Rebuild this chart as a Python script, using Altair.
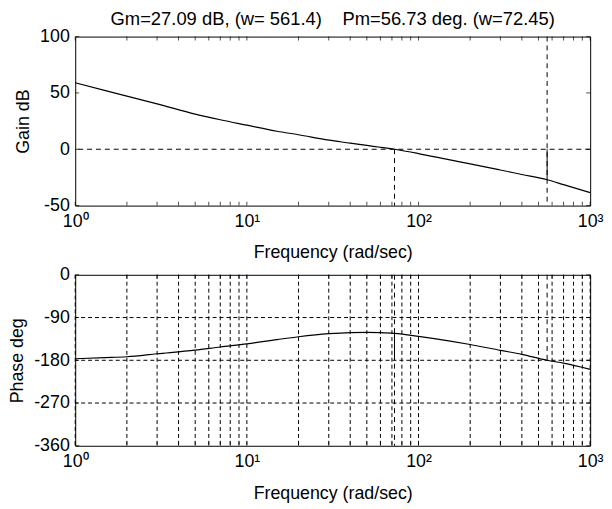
import altair as alt
import pandas as pd

# ---- data ----
freq = [1, 1.5, 2, 3, 5, 7, 10, 15, 20, 30, 40, 50, 60, 72.45, 100, 150, 200, 300, 400, 561.4, 700, 1000]
gain_db = [59.0, 52.0, 47.1, 40.3, 31.2, 26.2, 21.4, 16.0, 12.9, 8.1, 5.5, 3.4, 1.8, 0.0,
           -3.8, -9.2, -12.9, -18.4, -22.4, -27.09, -31.4, -38.5]
phase_deg = [-176.7, -174.5, -172.5, -166.3, -158.6, -152.0, -145.5, -136.5, -130.5, -124.0,
             -121.6, -121.2, -121.8, -123.27, -129.5, -139.0, -146.7, -159.0, -167.5, -180.0,
             -186.0, -199.0]

w_gm = 561.4      # gain-margin frequency
w_pm = 72.45      # phase-margin frequency
gm_db = 27.09
pm_deg = 56.73

tick_freqs = [1, 2, 3, 4, 5, 6, 7, 8, 9, 10, 20, 30, 40, 50, 60, 70, 80, 90,
              100, 200, 300, 400, 500, 600, 700, 800, 900, 1000]
major_freqs = [1, 10, 100, 1000]
major_labels = ["10\u2070", "10\u00b9", "10\u00b2", "10\u00b3"]
gain_ticks = [-50, 0, 50, 100]
phase_ticks = [-360, -270, -180, -90, 0]
phase_grid = [-270, -180, -90]

title_text = "Gm=27.09 dB, (w= 561.4)\u00a0\u00a0\u00a0\u00a0Pm=56.73 deg. (w=72.45)"
x_title = "Frequency (rad/sec)"

FONT = "Liberation Sans"
FS = 18
W = 521
H1 = 171
H2 = 173
TL = 4  # inner tick length

label_expr = " : ".join(
    f"datum.value == {v} ? '{t}'" for v, t in zip(major_freqs, major_labels)
) + " : ''"

curve = pd.DataFrame({"w": freq, "gain": gain_db, "phase": phase_deg})
xt = pd.DataFrame({"w": tick_freqs})

xscale = alt.Scale(type="log", domain=[1, 1000], nice=False)
gscale = alt.Scale(domain=[-50, 100], nice=False)
pscale = alt.Scale(domain=[-360, 0], nice=False)

XAX = alt.Axis(orient="bottom", values=major_freqs, labelExpr=label_expr,
               title=x_title, ticks=False, tickSize=0, domain=False,
               grid=False, labelPadding=7, labelFlush=False, labelOverlap=False,
               labelBound=False, titlePadding=14)


def y_axis(vals, title):
    return alt.Axis(orient="left", values=vals, title=title, labelExpr="'' + datum.value",
                    ticks=False, tickSize=0, domain=False, grid=False, labelPadding=6,
                    titlePadding=7, labelFlush=False, labelOverlap=False)


def build_panel(yscale, yax, ylo, yhi, yvals, main_field, extra_layers):
    X = lambda f: alt.X(f, scale=xscale, axis=XAX, title=x_title)
    Y = lambda f: alt.Y(f, scale=yscale, axis=yax, title=yax.title)
    line = alt.Chart(curve).mark_line(color="black", strokeWidth=1.2,
                                      interpolate="monotone").encode(
        x=X("w:Q"), y=Y(main_field))
    layers = [line]
    for df, enc in extra_layers:
        e = {}
        if "x" in enc:
            e["x"] = X(enc["x"])
        if "y" in enc:
            e["y"] = Y(enc["y"])
        if "y2" in enc:
            e["y2"] = enc["y2"]
        dash = enc.get("dash")
        if dash:
            m = alt.Chart(df).mark_rule(color="black", strokeWidth=1, strokeDash=dash)
        else:
            m = alt.Chart(df).mark_rule(color="black", strokeWidth=1)
        layers.append(m.encode(**e))
    # inner ticks on all four sides of the frame
    yt = pd.DataFrame({"v": yvals})
    for yv, off in ((ylo, -TL / 2), (yhi, TL / 2)):
        layers.append(alt.Chart(xt).mark_tick(orient="vertical", size=TL, thickness=1,
                                              color="black", yOffset=off).encode(
            x=X("w:Q"),
            y=alt.YDatum(yv, type="quantitative", scale=yscale, axis=yax, title=yax.title)))
    for xv, off in ((1, TL / 2), (1000, -TL / 2)):
        layers.append(alt.Chart(yt).mark_tick(orient="horizontal", size=TL, thickness=1,
                                              color="black", xOffset=off).encode(
            y=Y("v:Q"),
            x=alt.XDatum(xv, type="quantitative", scale=xscale, axis=XAX, title=x_title)))
    return alt.layer(*layers)


gain_extra = [
    (pd.DataFrame({"y": [0.0]}), {"y": "y:Q", "dash": [5, 4]}),
    (pd.DataFrame({"w": [w_gm]}), {"x": "w:Q", "dash": [5, 4]}),
    (pd.DataFrame({"w": [w_pm], "y": [0.0], "y2": [-50.0]}),
     {"x": "w:Q", "y": "y:Q", "y2": "y2:Q", "dash": [5, 4]}),
    (pd.DataFrame({"w": [w_gm], "y": [0.0], "y2": [-gm_db]}),
     {"x": "w:Q", "y": "y:Q", "y2": "y2:Q"}),
]

phase_extra = [
    (xt, {"x": "w:Q", "dash": [4, 3]}),
    (pd.DataFrame({"p": phase_grid}), {"y": "p:Q", "dash": [4, 3]}),
    (pd.DataFrame({"w": [w_pm]}), {"x": "w:Q", "dash": [5, 4]}),
    (pd.DataFrame({"w": [w_gm], "y": [0.0], "y2": [-180.0]}),
     {"x": "w:Q", "y": "y:Q", "y2": "y2:Q", "dash": [5, 4]}),
    (pd.DataFrame({"w": [w_pm], "y": [-180.0], "y2": [-180.0 + pm_deg]}),
     {"x": "w:Q", "y": "y:Q", "y2": "y2:Q"}),
]

gain_panel = build_panel(gscale, y_axis(gain_ticks, "Gain dB"), -50, 100, gain_ticks,
                         "gain:Q", gain_extra).properties(
    width=W, height=H1,
    title=alt.TitleParams(title_text, fontSize=18.6, font=FONT, fontWeight="normal",
                          color="black", anchor="middle", frame="group", offset=-1),
)

phase_panel = build_panel(pscale, y_axis(phase_ticks, "Phase deg"), -360, 0, phase_ticks,
                          "phase:Q", phase_extra).properties(width=W, height=H2)

chart = alt.vconcat(gain_panel, phase_panel, spacing=2).properties(
    padding={"left": 0, "top": -2, "right": 0, "bottom": 0},
    background="white",
).configure_view(
    stroke="black", strokeWidth=1
).configure_axis(
    labelFont=FONT, titleFont=FONT, labelFontSize=FS, titleFontSize=FS,
    labelColor="black", titleColor="black", titleFontWeight="normal",
)

chart.save("out.html", embed_options={"renderer": "svg", "actions": False})
